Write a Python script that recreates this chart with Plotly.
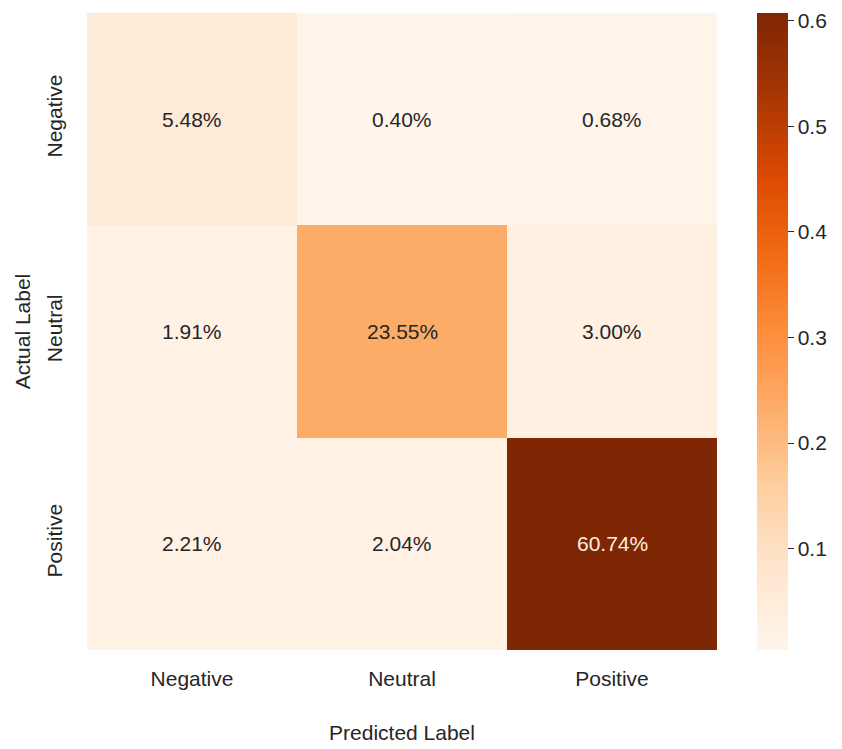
import plotly.graph_objects as go

# Confusion matrix, normalised to the total number of samples
classes = ["Negative", "Neutral", "Positive"]
shares = [
    [0.0548, 0.0040, 0.0068],   # actual Negative
    [0.0191, 0.2355, 0.0300],   # actual Neutral
    [0.0221, 0.0204, 0.6074],   # actual Positive
]
cbar_ticks = [0.1, 0.2, 0.3, 0.4, 0.5, 0.6]

FONT = "Liberation Sans, Arial, sans-serif"
TXT = "#262626"

zmin = min(min(r) for r in shares)
zmax = max(max(r) for r in shares)

fig = go.Figure(
    go.Heatmap(
        z=shares,
        x=classes,
        y=classes,
        colorscale="Oranges",
        zmin=zmin,
        zmax=zmax,
        xgap=0,
        ygap=0,
        showscale=True,
        hovertemplate="Actual %{y}<br>Predicted %{x}<br>%{z:.2%}<extra></extra>",
        colorbar=dict(
            x=1.063, xanchor="left",
            y=0.5, yanchor="middle",
            len=1.0, lenmode="fraction",
            ypad=0, xpad=0,
            thickness=31,
            outlinewidth=0,
            ticks="outside", ticklen=6, tickwidth=1, tickcolor=TXT,
            tickvals=cbar_ticks,
            ticktext=[f"{v:.1f}" for v in cbar_ticks],
            tickfont=dict(family=FONT, size=21, color=TXT),
        ),
    )
)

# Cell labels: light text on dark cells, dark text elsewhere
mid = (zmin + zmax) / 2
for i, row in enumerate(shares):
    for j, v in enumerate(row):
        fig.add_annotation(
            x=classes[j], y=classes[i],
            text=f"{v * 100:.2f}%",
            showarrow=False,
            font=dict(family=FONT, size=21,
                      color="#fdeee0" if v > mid else TXT),
        )

fig.update_layout(
    width=842, height=749,
    margin=dict(l=87, r=125, t=13, b=99, autoexpand=False),
    paper_bgcolor="white",
    plot_bgcolor="white",
    font=dict(family=FONT, size=21, color=TXT),
    xaxis=dict(
        title=dict(text="Predicted Label", standoff=36,
                   font=dict(family=FONT, size=21, color=TXT)),
        showgrid=False, zeroline=False, showline=False,
        ticks="", ticklabelstandoff=14,
        tickfont=dict(family=FONT, size=21, color=TXT),
    ),
    yaxis=dict(
        title=dict(text="Actual Label", standoff=6,
                   font=dict(family=FONT, size=21, color=TXT)),
        autorange="reversed",
        showgrid=False, zeroline=False, showline=False,
        ticks="", tickangle=-90, ticklabelstandoff=20,
        tickfont=dict(family=FONT, size=21, color=TXT),
    ),
)

fig.write_html("out.html")
